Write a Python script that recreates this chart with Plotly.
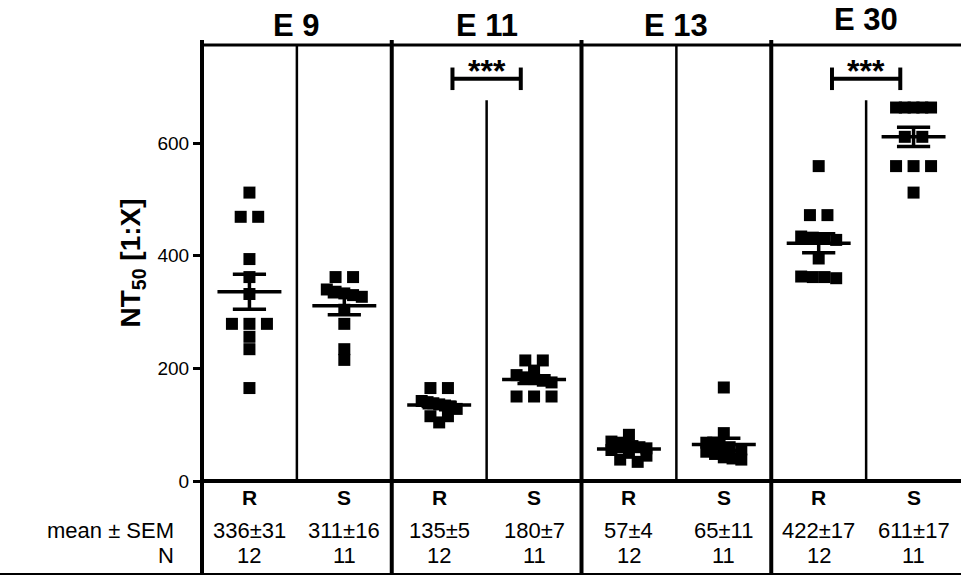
import plotly.graph_objects as go

# ---------------- data ----------------
groups = ["E 9", "E 11", "E 13", "E 30"]
conditions = ["R", "S"]

e9_r = [512, 469, 469, 394, 362, 332, 279, 279, 279, 256, 234, 165]
e9_s = [362, 362, 340, 336, 333, 330, 327, 304, 279, 234, 215]
e11_r = [165, 165, 142, 140, 138, 136, 134, 132, 128, 115, 115, 104]
e11_s = [214, 214, 196, 188, 184, 181, 178, 175, 150, 150, 150]
e13_r = [82, 70, 68, 65, 62, 60, 58, 55, 50, 45, 38, 34]
e13_s = [166, 85, 68, 64, 60, 56, 52, 48, 42, 40, 38]
e30_r = [559, 472, 472, 434, 432, 430, 428, 395, 363, 362, 362, 360]
e30_s = [663, 663, 663, 663, 663, 611, 611, 559, 559, 559, 512]

mean_r = [336, 135, 57, 422]
sem_r = [31, 5, 4, 17]
mean_s = [311, 180, 65, 611]
sem_s = [16, 7, 11, 17]
n_r = [12, 12, 12, 12]
n_s = [11, 11, 11, 11]
significance = ["", "***", "", "***"]
y_ticks = [0, 200, 400, 600]

values = [[e9_r, e9_s], [e11_r, e11_s], [e13_r, e13_s], [e30_r, e30_s]]
means = [[mean_r[i], mean_s[i]] for i in range(len(groups))]
sems = [[sem_r[i], sem_s[i]] for i in range(len(groups))]
ns = [[n_r[i], n_s[i]] for i in range(len(groups))]

# ---------------- layout constants ----------------
W, H = 961, 578
ML, MR, MT, MB = 202, 0, 45, 97
PLOT_W = W - ML - MR
PLOT_H = H - MT - MB
X_MAX = 2 * len(groups)
Y_MAX = 774
PX_X = PLOT_W / X_MAX
PX_Y = PLOT_H / Y_MAX
FONT = "Liberation Sans, Arial, sans-serif"
BASE_Y = MT + PLOT_H  # pixel row of value 0


def paper_y_from_pixel(py):
    return (BASE_Y - py) / PLOT_H


def scatter_offsets(vals, max_gap=6, max_span=14, step_px=17.5, max_width_px=35.0):
    """Group nearly equal values into rows and spread each row horizontally."""
    order = sorted(range(len(vals)), key=lambda i: -vals[i])
    rows = []
    for i in order:
        if rows:
            row = rows[-1]
            if (vals[row[-1]] - vals[i] <= max_gap) and (vals[row[0]] - vals[i] <= max_span):
                row.append(i)
                continue
        rows.append([i])
    offs = [0.0] * len(vals)
    for row in rows:
        n = len(row)
        if n == 1:
            continue
        step = min(step_px, max_width_px / (n - 1))
        for k, i in enumerate(row):
            offs[i] = (k - (n - 1) / 2.0) * step / PX_X
    return offs


fig = go.Figure()

MEAN_HALF = 0.337
SEM_HALF = 0.175

for g in range(len(groups)):
    for j in range(len(conditions)):
        c = 2 * g + 0.5 + j
        vals = values[g][j]
        offs = scatter_offsets(vals)
        fig.add_trace(go.Scatter(
            x=[c + o for o in offs], y=vals, mode="markers",
            marker=dict(symbol="square", size=12, color="black", line=dict(width=0)),
            cliponaxis=False, showlegend=False, hoverinfo="y"))
        m, s = means[g][j], sems[g][j]
        fig.add_trace(go.Scatter(
            x=[c - MEAN_HALF, c + MEAN_HALF, None,
               c - SEM_HALF, c + SEM_HALF, None,
               c - SEM_HALF, c + SEM_HALF, None,
               c, c],
            y=[m, m, None, m + s, m + s, None, m - s, m - s, None, m - s, m + s],
            mode="lines", line=dict(color="black", width=3.5),
            cliponaxis=False, showlegend=False, hoverinfo="skip"))

shapes = []
annotations = []

TABLE_BOTTOM = paper_y_from_pixel(574)
TOP_TICK = paper_y_from_pixel(MT - 5)

# group boundary lines (through plot and table)
for g in range(len(groups)):
    xp = (2 * g) / X_MAX
    shapes.append(dict(type="line", xref="paper", yref="paper", x0=xp, x1=xp,
                       y0=TABLE_BOTTOM, y1=TOP_TICK, line=dict(color="black", width=4)))
# top line
shapes.append(dict(type="line", xref="paper", yref="paper", x0=0, x1=1, y0=1, y1=1,
                   line=dict(color="black", width=3)))
# zero line
shapes.append(dict(type="line", xref="paper", yref="paper", x0=0, x1=1, y0=0, y1=0,
                   line=dict(color="black", width=4)))
# bottom line of table
shapes.append(dict(type="line", xref="paper", yref="paper", x0=-ML / PLOT_W, x1=1,
                   y0=TABLE_BOTTOM, y1=TABLE_BOTTOM, line=dict(color="black", width=2)))

BRACKET_Y = 714
CAP = 20
BR_HALF = 0.36
for g in range(len(groups)):
    c = 2 * g + 1
    top = Y_MAX
    if significance[g]:
        top = 676
        shapes.append(dict(type="line", xref="x", yref="y", x0=c - BR_HALF, x1=c + BR_HALF,
                           y0=BRACKET_Y, y1=BRACKET_Y, line=dict(color="black", width=4)))
        for xx in (c - BR_HALF, c + BR_HALF):
            shapes.append(dict(type="line", xref="x", yref="y", x0=xx, x1=xx,
                               y0=BRACKET_Y - CAP, y1=BRACKET_Y + CAP,
                               line=dict(color="black", width=4)))
        annotations.append(dict(x=c, y=BRACKET_Y, xref="x", yref="y",
                                text="<b>%s</b>" % significance[g],
                                showarrow=False, xanchor="center", yanchor="bottom", yshift=-12,
                                font=dict(family=FONT, size=32, color="black")))
    shapes.append(dict(type="line", xref="x", yref="y", x0=c, x1=c, y0=0, y1=top,
                       line=dict(color="black", width=2.5)))

# group titles
for g, name in enumerate(groups):
    annotations.append(dict(x=(2 * g + 1) / X_MAX,
                            y=paper_y_from_pixel(25 - (5 if g == 3 else 0)),
                            xref="paper", yref="paper", text="<b>%s</b>" % name,
                            showarrow=False, xanchor="center", yanchor="middle",
                            font=dict(family=FONT, size=31, color="black")))

# table rows
ROW_RS = paper_y_from_pixel(498)
ROW_MEAN = paper_y_from_pixel(530)
ROW_N = paper_y_from_pixel(555)
for g in range(len(groups)):
    for j, cond in enumerate(conditions):
        xp = (2 * g + 0.5 + j) / X_MAX
        annotations.append(dict(x=xp, y=ROW_RS, xref="paper", yref="paper",
                                text="<b>%s</b>" % cond, showarrow=False,
                                xanchor="center", yanchor="middle",
                                font=dict(family=FONT, size=21, color="black")))
        annotations.append(dict(x=xp, y=ROW_MEAN, xref="paper", yref="paper",
                                text="%d±%d" % (means[g][j], sems[g][j]), showarrow=False,
                                xanchor="center", yanchor="middle",
                                font=dict(family=FONT, size=22, color="black")))
        annotations.append(dict(x=xp, y=ROW_N, xref="paper", yref="paper",
                                text="%d" % ns[g][j], showarrow=False,
                                xanchor="center", yanchor="middle",
                                font=dict(family=FONT, size=22, color="black")))
annotations.append(dict(x=-26 / PLOT_W, y=ROW_MEAN, xref="paper", yref="paper",
                        text="mean ± SEM", showarrow=False, xanchor="right", yanchor="middle",
                        font=dict(family=FONT, size=22, color="black")))
annotations.append(dict(x=-26 / PLOT_W, y=ROW_N, xref="paper", yref="paper",
                        text="N", showarrow=False, xanchor="right", yanchor="middle",
                        font=dict(family=FONT, size=22, color="black")))

fig.update_layout(
    width=W, height=H,
    margin=dict(l=ML, r=MR, t=MT, b=MB, pad=0),
    paper_bgcolor="white", plot_bgcolor="white",
    showlegend=False,
    shapes=shapes, annotations=annotations,
    xaxis=dict(range=[0, X_MAX], showgrid=False, zeroline=False, showticklabels=False,
               ticks="", showline=False, fixedrange=True),
    yaxis=dict(range=[0, Y_MAX], showgrid=False, zeroline=False, showline=False,
               tickvals=y_ticks, ticks="outside", ticklen=8, tickwidth=3, tickcolor="black",
               tickfont=dict(family=FONT, size=19, color="black"),
               title=dict(text="<b>NT<sub>50</sub> [1:X]</b>", standoff=8,
                          font=dict(family=FONT, size=28, color="black")),
               fixedrange=True),
)

fig.write_html(
    "out.html",
    config={"displayModeBar": False},
    post_script="document.body.style.margin='0';document.documentElement.style.overflow='hidden';",
)
